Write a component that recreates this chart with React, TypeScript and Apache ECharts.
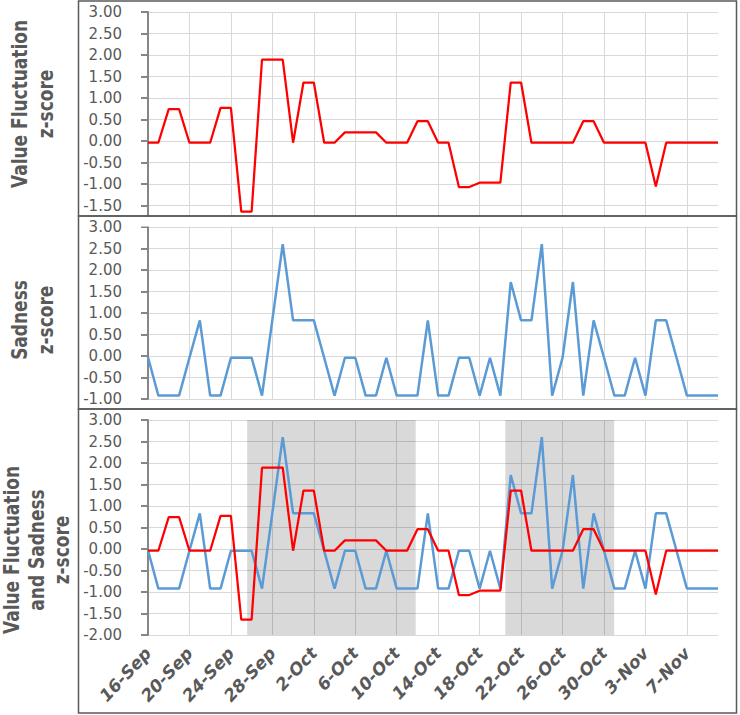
import React, { useEffect, useRef } from "react";
import * as echarts from "echarts";

const dates = [
  "16-Sep", "17-Sep", "18-Sep", "19-Sep", "20-Sep", "21-Sep", "22-Sep", "23-Sep", "24-Sep", "25-Sep",
  "26-Sep", "27-Sep", "28-Sep", "29-Sep", "30-Sep",
  "1-Oct", "2-Oct", "3-Oct", "4-Oct", "5-Oct", "6-Oct", "7-Oct", "8-Oct", "9-Oct", "10-Oct",
  "11-Oct", "12-Oct", "13-Oct", "14-Oct", "15-Oct", "16-Oct", "17-Oct", "18-Oct", "19-Oct", "20-Oct",
  "21-Oct", "22-Oct", "23-Oct", "24-Oct", "25-Oct", "26-Oct", "27-Oct", "28-Oct", "29-Oct", "30-Oct", "31-Oct",
  "1-Nov", "2-Nov", "3-Nov", "4-Nov", "5-Nov", "6-Nov", "7-Nov", "8-Nov", "9-Nov", "10-Nov",
];

const valueFluctuation = [
  -0.04, -0.04, 0.74, 0.74, -0.04, -0.04, -0.04, 0.77, 0.77, -1.64,
  -1.64, 1.89, 1.89, 1.89, -0.04, 1.36, 1.36, -0.04, -0.04, 0.2,
  0.2, 0.2, 0.2, -0.04, -0.04, -0.04, 0.46, 0.46, -0.04, -0.04,
  -1.07, -1.07, -0.97, -0.97, -0.97, 1.36, 1.36, -0.04, -0.04, -0.04,
  -0.04, -0.04, 0.46, 0.46, -0.04, -0.04, -0.04, -0.04, -0.04, -1.06,
  -0.04, -0.04, -0.04, -0.04, -0.04, -0.04,
];

const sadness = [
  -0.03, -0.92, -0.92, -0.92, -0.04, 0.83, -0.92, -0.92, -0.04, -0.04,
  -0.04, -0.92, 0.84, 2.6, 0.83, 0.83, 0.83, -0.04, -0.92, -0.04,
  -0.04, -0.92, -0.92, -0.04, -0.92, -0.92, -0.92, 0.83, -0.92, -0.92,
  -0.04, -0.04, -0.92, -0.04, -0.92, 1.72, 0.83, 0.83, 2.6, -0.92,
  -0.04, 1.72, -0.92, 0.83, -0.04, -0.92, -0.92, -0.04, -0.92, 0.83,
  0.83, -0.04, -0.92, -0.92, -0.92, -0.92,
];

// shaded periods, in day offsets from 16-Sep
const shadeStart = [9.57, 34.48];
const shadeEnd = [25.83, 44.98];

const yRanges = [
  { min: -2, max: 3 },
  { min: -1, max: 3 },
  { min: -2, max: 3 },
];

const panelNames = [
  "Value Fluctuation\nz-score",
  "Sadness\nz-score",
  "Value Fluctuation\nand Sadness\nz-score",
];

const RED = "#ff0000";
const BLUE = "#5b9bd5";
const GRAY_TEXT = "#595959";
const GRID_LINE = "#d9d9d9";
const AXIS_LINE = "#868686";
const FONT = "DejaVu Sans";

export default function App() {
  const ref = useRef<HTMLDivElement | null>(null);

  useEffect(() => {
    if (!ref.current) return;
    const chart = echarts.init(ref.current, undefined, { renderer: "svg" });

    const grids = [
      { left: 148, top: 12, width: 570, height: 215 },
      { left: 148, top: 227, width: 570, height: 172 },
      { left: 148, top: 420, width: 570, height: 215 },
    ];

    const xAxes: any[] = grids.map((_, k) => ({
      gridIndex: k,
      type: "category",
      data: dates,
      boundaryGap: false,
      axisLine: { show: false, onZero: false },
      axisTick: { show: false },
      axisLabel: {
        show: k === 2,
        interval: 3,
        rotate: 47,
        margin: 15,
        fontFamily: FONT,
        fontWeight: "bold",
        fontStyle: "italic",
        fontSize: 17,
        color: GRAY_TEXT,
      },
      splitLine: { show: true, interval: 3, lineStyle: { color: GRID_LINE, width: 1 } },
    }));
    xAxes.push({
      gridIndex: 2,
      type: "value",
      min: 0,
      max: dates.length - 1,
      show: false,
    });

    const yAxes = grids.map((_, k) => ({
      gridIndex: k,
      type: "value",
      min: yRanges[k].min,
      max: yRanges[k].max,
      interval: 0.5,
      axisLine: { show: true, onZero: false, lineStyle: { color: AXIS_LINE, width: 2 } },
      axisTick: { show: true, length: 7, lineStyle: { color: AXIS_LINE, width: 2 } },
      axisLabel: {
        margin: 26,
        fontFamily: FONT,
        fontSize: 15,
        color: GRAY_TEXT,
        formatter: (v: number) => (k === 0 && v < -1.75 ? "" : v.toFixed(2)),
      },
      splitLine: { show: true, lineStyle: { color: GRID_LINE, width: 1 } },
    }));

    const lineBase = { type: "line", showSymbol: false, symbol: "none", smooth: false };

    const series: any[] = [
      { ...lineBase, name: "Value Fluctuation", xAxisIndex: 0, yAxisIndex: 0, data: valueFluctuation, lineStyle: { color: RED, width: 2.25 }, itemStyle: { color: RED } },
      { ...lineBase, name: "Sadness", xAxisIndex: 1, yAxisIndex: 1, data: sadness, lineStyle: { color: BLUE, width: 2.5 }, itemStyle: { color: BLUE } },
      { ...lineBase, name: "Sadness (combined)", xAxisIndex: 2, yAxisIndex: 2, data: sadness, lineStyle: { color: BLUE, width: 2.5 }, itemStyle: { color: BLUE } },
      { ...lineBase, name: "Value Fluctuation (combined)", xAxisIndex: 2, yAxisIndex: 2, data: valueFluctuation, lineStyle: { color: RED, width: 2.25 }, itemStyle: { color: RED } },
      {
        type: "line",
        name: "shade",
        xAxisIndex: 3,
        yAxisIndex: 2,
        data: [],
        z: 5,
        silent: true,
        markArea: {
          silent: true,
          itemStyle: { color: "rgba(0,0,0,0.15)" },
          data: shadeStart.map((s, i) => [{ xAxis: s }, { xAxis: shadeEnd[i] }]),
        },
      },
    ];

    const nameSpecs = [
      { x: 33, y: 104, lh: 21 },
      { x: 33, y: 320, lh: 21 },
      { x: 37, y: 550, lh: 20 },
    ];

    const graphic: any[] = [
      {
        type: "rect",
        z: 100,
        shape: { x: 140, y: 217, width: 582, height: 9.5 },
        style: { fill: "#ffffff" },
        silent: true,
      },
      {
        type: "rect",
        z: 101,
        shape: { x: 78.5, y: 1, width: 658, height: 215 },
        style: { fill: "none", stroke: GRAY_TEXT, lineWidth: 1.5 },
        silent: true,
      },
      {
        type: "rect",
        z: 101,
        shape: { x: 78.5, y: 216, width: 658, height: 193 },
        style: { fill: "none", stroke: GRAY_TEXT, lineWidth: 1.5 },
        silent: true,
      },
      {
        type: "rect",
        z: 101,
        shape: { x: 78.5, y: 409, width: 658, height: 304 },
        style: { fill: "none", stroke: GRAY_TEXT, lineWidth: 1.5 },
        silent: true,
      },
      ...panelNames.map((t, i) => ({
        type: "text",
        z: 101,
        x: nameSpecs[i].x,
        y: nameSpecs[i].y,
        rotation: Math.PI / 2,
        scaleY: 1.25,
        silent: true,
        style: {
          text: t,
          fontFamily: FONT,
          fontWeight: "bold",
          fontSize: 17,
          lineHeight: nameSpecs[i].lh,
          fill: GRAY_TEXT,
          align: "center",
          verticalAlign: "middle",
          textAlign: "center",
          textVerticalAlign: "middle",
        },
      })),
    ];

    chart.setOption({
      animation: false,
      backgroundColor: "#ffffff",
      grid: grids,
      xAxis: xAxes,
      yAxis: yAxes,
      series,
      graphic,
    });

    return () => {
      chart.dispose();
    };
  }, []);

  return (
    <div
      ref={ref}
      style={{ position: "absolute", left: 0, top: 0, width: 740, height: 715 }}
    />
  );
}
